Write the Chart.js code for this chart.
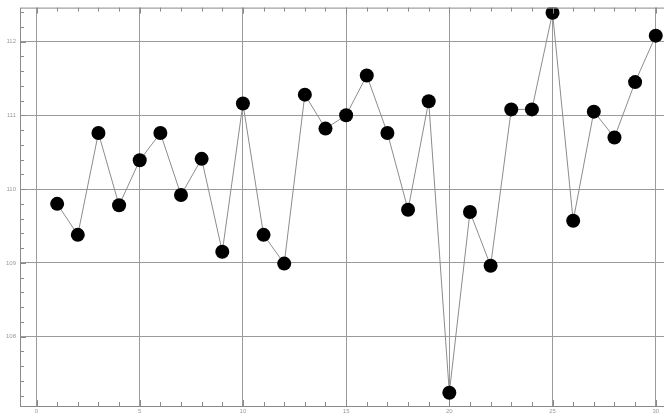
<!DOCTYPE html>
<html>
<head>
<meta charset="utf-8">
<script src="https://cdn.jsdelivr.net/npm/chart.js@4/dist/chart.umd.min.js"></script>
<style>
  html, body { margin: 0; padding: 0; background: #fff; }
  #wrap { width: 664px; height: 418px; }
</style>
</head>
<body>
<div id="wrap"><canvas id="chart"></canvas></div>
<script>
// values
const xValues = [1, 2, 3, 4, 5, 6, 7, 8, 9, 10, 11, 12, 13, 14, 15,
                 16, 17, 18, 19, 20, 21, 22, 23, 24, 25, 26, 27, 28, 29, 30];
const yValues = [109.80, 109.38, 110.76, 109.78, 110.39, 110.76, 109.92, 110.41, 109.15, 111.16,
                 109.38, 108.99, 111.28, 110.82, 111.00, 111.54, 110.76, 109.72, 111.19, 107.24,
                 109.69, 108.96, 111.08, 111.08, 112.39, 109.57, 111.05, 110.70, 111.45, 112.08];
const xTicks = [0, 5, 10, 15, 20, 25, 30];
const yTicks = [108, 109, 110, 111, 112];

var points = xValues.map(function (x, i) { return { x: x, y: yValues[i] }; });

// small inner ticks + frame, like the original plot
const frameTicks = {
  id: 'frameTicks',
  afterDraw: function (chart) {
    var ctx = chart.ctx;
    var a = chart.chartArea;
    var xs = chart.scales.x;
    var ys = chart.scales.y;
    ctx.save();
    ctx.strokeStyle = '#8a8a8a';
    ctx.lineWidth = 1;
    ctx.strokeRect(a.left + 0.5, a.top + 0.5, a.right - a.left, a.bottom - a.top);
    ctx.beginPath();
    for (var i = 0; i <= 30; i++) {
      var px = Math.round(xs.getPixelForValue(i)) + 0.5;
      var len = (i % 5 === 0) ? 6 : 4;
      ctx.moveTo(px, a.bottom); ctx.lineTo(px, a.bottom - len);
      ctx.moveTo(px, a.top); ctx.lineTo(px, a.top + len);
    }
    for (var v = 1070; v <= 1125; v += 2) {
      var py = Math.round(ys.getPixelForValue(v / 10)) + 0.5;
      if (py < a.top || py > a.bottom) continue;
      var l2 = (v % 10 === 0) ? 6 : 4;
      ctx.moveTo(a.left, py); ctx.lineTo(a.left + l2, py);
    }
    ctx.stroke();
    ctx.restore();
  }
};

var ctx = document.getElementById('chart').getContext('2d');
var chart = new Chart(ctx, {
  type: 'scatter',
  data: {
    datasets: [{
      data: points,
      showLine: true,
      borderColor: '#8c8c8c',
      borderWidth: 1,
      backgroundColor: '#000',
      pointBackgroundColor: '#000',
      pointBorderColor: '#000',
      pointBorderWidth: 0,
      pointRadius: 7,
      pointHoverRadius: 7
    }]
  },
  options: {
    responsive: true,
    maintainAspectRatio: false,
    animation: false,
    layout: { autoPadding: false, padding: { top: 3, right: 0, left: 0, bottom: 0 } },
    plugins: { legend: { display: false }, tooltip: { enabled: false } },
    scales: {
      x: {
        type: 'linear',
        min: -0.8,
        max: 30.4,
        afterFit: function (s) { s.height = 12; },
        afterBuildTicks: function (s) { s.ticks = xTicks.map(function (v) { return { value: v }; }); },
        ticks: { color: '#9a9a9a', font: { size: 6 }, padding: 2, maxRotation: 0 },
        grid: { color: '#9a9a9a', lineWidth: 1, drawTicks: false },
        border: { display: false }
      },
      y: {
        type: 'linear',
        min: 107.06,
        max: 112.46,
        afterFit: function (s) { s.width = 20; },
        afterBuildTicks: function (s) { s.ticks = yTicks.map(function (v) { return { value: v }; }); },
        ticks: { color: '#9a9a9a', font: { size: 6 }, padding: 4 },
        grid: { color: '#9a9a9a', lineWidth: 1, drawTicks: false },
        border: { display: false }
      }
    }
  },
  plugins: [frameTicks]
});
</script>
</body>
</html>
